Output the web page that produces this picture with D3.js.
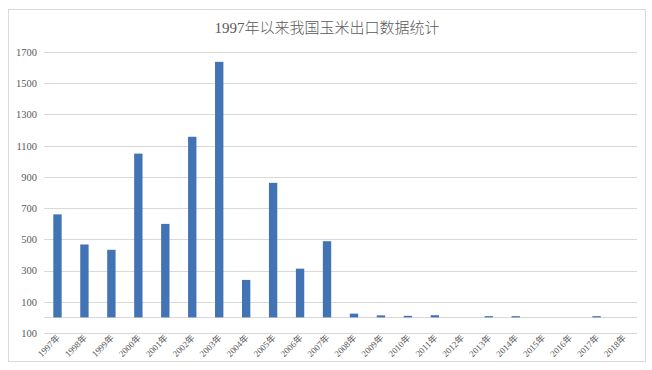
<!DOCTYPE html>
<html><head><meta charset="utf-8">
<script src="https://cdn.jsdelivr.net/npm/d3@7/dist/d3.min.js"></script>
<style>
html,body{margin:0;padding:0;background:#fff;}
svg{display:block;}
</style></head>
<body>
<script>
const title = "1997年以来我国玉米出口数据统计";
const years = ["1997年","1998年","1999年","2000年","2001年","2002年","2003年","2004年","2005年","2006年","2007年","2008年","2009年","2010年","2011年","2012年","2013年","2014年","2015年","2016年","2017年","2018年"];
const exportsVal = [660,467,433,1049,599,1157,1637,240,862,312,488,24,13,10,14,0,8,8,0,0,8,0];
const yTickValues = [-100,100,300,500,700,900,1100,1300,1500,1700];
const yTickLabels = ["100","100","300","500","700","900","1100","1300","1500","1700"];

const W = 652, H = 370;
const svg = d3.select("body").append("svg").attr("width", W).attr("height", H);

// frame
svg.append("rect").attr("x", 8.5).attr("y", 9.5).attr("width", 637).attr("height", 352)
  .attr("fill", "#fff").attr("stroke", "#d9d9d9").attr("stroke-width", 1);

svg.append("text").attr("x", 327).attr("y", 33).attr("text-anchor", "middle")
  .attr("font-family", "'Liberation Serif','Noto Sans CJK SC',serif")
  .attr("font-size", 15).attr("font-weight", 300).attr("fill", "#595959").text(title);

const x = d3.scaleBand().domain(years).range([44, 637]).paddingInner(0.69).paddingOuter(0.345);
const y = d3.scaleLinear().domain([-100, 1700]).range([333, 52]);

// gridlines
const grid = svg.append("g");
grid.selectAll("line").data(yTickValues.concat([0])).join("line")
  .attr("x1", 44).attr("x2", 637)
  .attr("y1", d => Math.round(y(d)) + 0.5).attr("y2", d => Math.round(y(d)) + 0.5)
  .attr("stroke", "#d9d9d9").attr("stroke-width", 1);

// y axis labels
const yAxis = d3.axisLeft(y).tickValues(yTickValues)
  .tickFormat((d, i) => yTickLabels[i]).tickSize(0).tickPadding(0);
const gy = svg.append("g").attr("transform", "translate(37,0)").call(yAxis);
gy.select(".domain").remove();
gy.selectAll("text").attr("font-family", "'Liberation Serif','DejaVu Serif',serif")
  .attr("font-size", 10.5).attr("fill", "#595959");

// bars
svg.append("g").selectAll("rect").data(years).join("rect")
  .attr("x", d => x(d))
  .attr("width", x.bandwidth())
  .attr("y", (d, i) => y(Math.max(exportsVal[i], 0)))
  .attr("height", (d, i) => Math.abs(y(exportsVal[i]) - y(0)))
  .attr("fill", "#4273b4");

// x axis labels
const xAxis = d3.axisBottom(x).tickSize(0).tickPadding(0);
const gx = svg.append("g").attr("transform", "translate(0,334)").call(xAxis);
gx.select(".domain").remove();
gx.selectAll("text")
  .attr("font-family", "'Liberation Serif','Noto Sans CJK SC',serif")
  .attr("font-size", 9).attr("fill", "#595959")
  .attr("text-anchor", "end").attr("dy", "0.6em").attr("dx", "-0.1em")
  .attr("transform", "rotate(-45)");
</script>
</body></html>
